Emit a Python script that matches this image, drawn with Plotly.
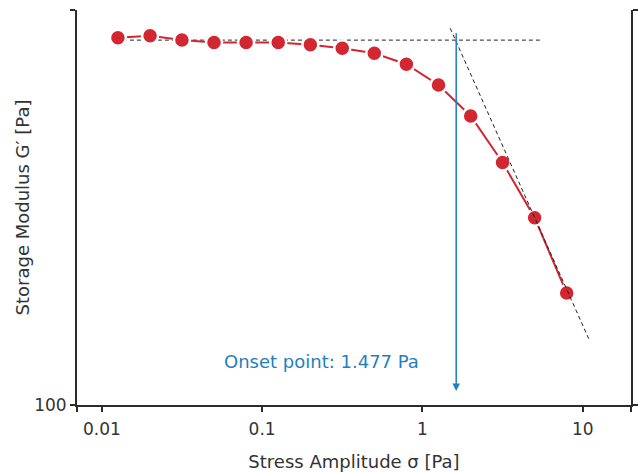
import numpy as np
import plotly.graph_objects as go

# Data
stress = [0.0126, 0.02, 0.0316, 0.0501, 0.0794, 0.126, 0.2, 0.316, 0.501,
          0.794, 1.26, 2.0, 3.16, 5.01, 7.94]
gprime = [851, 861, 840, 827, 827, 827, 817, 800, 777, 729, 646, 539, 411, 298, 192]

plateau_x = [0.01353, 5.52]
plateau_y = [839, 839]
tangent_x = [1.49, 11.06]
tangent_y = [899, 145.2]

onset_x = 1.624
arrow_top = 881
arrow_bottom = 108.5
onset_label = "Onset point: 1.477 Pa"
label_x = 0.975
label_y = 128.5

x_tickvals = [0.007, 0.01, 0.1, 1, 10, 20]
x_ticktext = ["", "0.01", "0.1", "1", "10", ""]
y_tickvals = [100, 1000]
y_ticktext = ["100", ""]

FONT = "DejaVu Sans"
RED = "#d22630"
BLUE = "#1f7fbf"
AX = "#2b2b2b"

fig = go.Figure()
fig.add_trace(go.Scatter(x=plateau_x, y=plateau_y, mode="lines",
                         line=dict(color="#222", width=1, dash="4px,3px"),
                         hoverinfo="skip", showlegend=False))
fig.add_trace(go.Scatter(x=stress, y=gprime, mode="lines+markers",
                         line=dict(color=RED, width=2),
                         marker=dict(color=RED, size=16, line=dict(color="white", width=2.5)),
                         showlegend=False))
fig.add_trace(go.Scatter(x=tangent_x, y=tangent_y, mode="lines",
                         line=dict(color="#222", width=1, dash="4px,3px"),
                         hoverinfo="skip", showlegend=False))

fig.add_annotation(x=np.log10(onset_x), y=np.log10(arrow_bottom),
                   ax=np.log10(onset_x), ay=np.log10(arrow_top),
                   xref="x", yref="y", axref="x", ayref="y",
                   text="", showarrow=True, arrowhead=2, arrowsize=1,
                   arrowwidth=1.5, arrowcolor=BLUE)
fig.add_annotation(x=np.log10(label_x), y=np.log10(label_y), xref="x", yref="y",
                   text=onset_label, showarrow=False, xanchor="right", yanchor="middle",
                   font=dict(family=FONT, size=18, color=BLUE))

fig.update_xaxes(type="log", range=[np.log10(0.007), np.log10(20)],
                 tickvals=x_tickvals, ticktext=x_ticktext, automargin=False,
                 showgrid=False, zeroline=False, showline=True, linecolor=AX, linewidth=2,
                 ticks="outside", ticklen=5, tickwidth=1.5, tickcolor=AX,
                 ticklabelstandoff=3,
                 tickfont=dict(family=FONT, size=17, color="#333"),
                 title=dict(text="Stress Amplitude σ [Pa]", standoff=17,
                            font=dict(family=FONT, size=18, color="#333")))
fig.update_yaxes(type="log", range=[2, 3],
                 tickvals=y_tickvals, ticktext=y_ticktext, automargin=False,
                 showgrid=False, zeroline=False, showline=True, linecolor=AX, linewidth=2,
                 mirror="ticks",
                 ticks="outside", ticklen=5, tickwidth=1.5, tickcolor=AX,
                 tickfont=dict(family=FONT, size=17, color="#333"),
                 title=dict(text="Storage Modulus G′ [Pa]", standoff=0,
                            font=dict(family=FONT, size=18, color="#333")))
fig.update_layout(width=638, height=472, margin=dict(l=77, r=7, t=10, b=67),
                  plot_bgcolor="white", paper_bgcolor="white")
fig.write_html("out.html")
